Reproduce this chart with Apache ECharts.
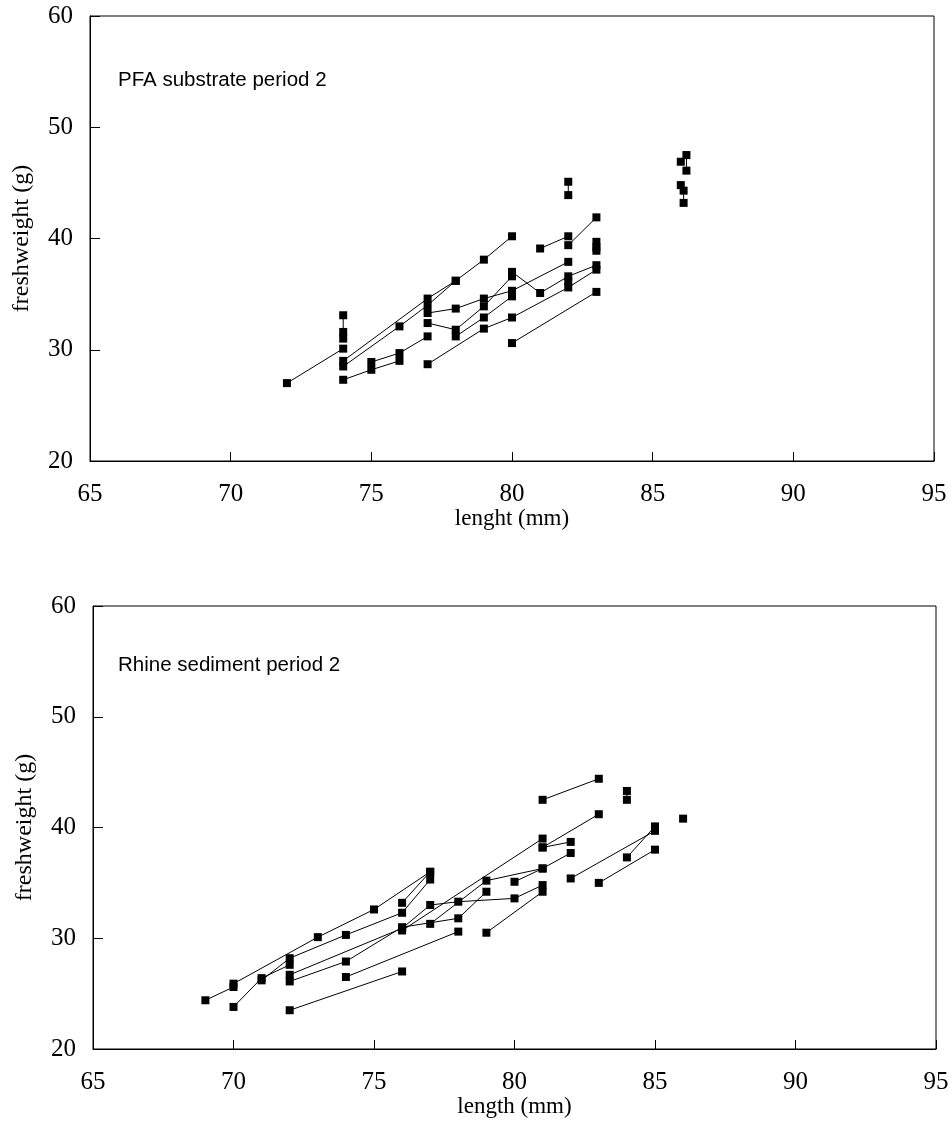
<!DOCTYPE html>
<html><head><meta charset="utf-8">
<script src="https://cdn.jsdelivr.net/npm/echarts@6/dist/echarts.min.js"></script>
<style>html,body{margin:0;padding:0;background:#fff}#c{width:952px;height:1125px}</style>
</head><body><div id="c"></div>
<script>
// x ticks (length, mm) and y ticks (freshweight, g)
const xTicks = [65, 70, 75, 80, 85, 90, 95];
const yTicks = [20, 30, 40, 50, 60];

// PFA substrate period 2 : individual fish tracks [length, freshweight]
const pfaTracks = [
  [[72,27.0],[74,30.1]],
  [[74,33.1],[74,31.6],[74,31.0]],
  [[74,29.0],[77,34.6],[78,36.2],[79,38.1],[80,40.2]],
  [[74,28.5],[76,32.1],[77,34.0],[78,36.2]],
  [[74,27.3],[75,28.2],[76,29.0]],
  [[75,28.9],[76,29.7],[77,31.2]],
  [[77,33.3],[78,33.7],[79,34.6],[80,35.3],[82,37.9]],
  [[77,32.4],[78,31.8],[79,33.9],[80,36.6]],
  [[78,31.2],[79,32.9],[80,34.8]],
  [[77,28.7],[79,31.9],[80,32.9],[82,35.6],[83,37.2]],
  [[80,37.0],[81,35.1],[82,36.6],[83,37.6]],
  [[80,30.6],[83,35.2]],
  [[81,39.1],[82,40.2]],
  [[82,39.4],[83,41.9]],
  [[82,45.1],[82,43.9]],
  [[82,36.1]],
  [[83,39.7],[83,39.2],[83,38.9]],
  [[86.0,46.9],[86.2,47.5],[86.2,46.1]],
  [[86.0,44.8],[86.1,44.3],[86.1,43.2]]
];

// Rhine sediment period 2 : individual fish tracks [length, freshweight]
const rhineTracks = [
  [[69,24.4],[70,25.6]],
  [[70,25.9],[73,30.1],[75,32.6],[77,36.0]],
  [[70,23.8],[71,26.4],[72,27.6]],
  [[71,26.2],[72,28.2],[74,30.3],[76,32.3],[77,35.3]],
  [[72,26.7],[76,30.9],[77,33.0],[78,33.3],[80,33.6],[81,34.8]],
  [[72,26.1],[74,27.9],[76,31.0],[78,31.8],[79,34.2]],
  [[72,23.5],[76,27.0]],
  [[74,26.5],[78,30.6]],
  [[76,30.7],[81,39.0]],
  [[76,33.2],[77,36.0]],
  [[77,31.3],[79,35.2],[81,36.3]],
  [[79,30.5],[81,34.2]],
  [[80,35.1],[81,36.3],[82,37.7]],
  [[81,38.2],[83,41.2]],
  [[81,38.2],[82,38.7]],
  [[81,42.5],[83,44.4]],
  [[82,35.4],[85,39.7]],
  [[83,35.0],[85,38.0]],
  [[84,37.3],[85,40.1]],
  [[84,43.3],[84,42.5]],
  [[86,40.8]]
];

const serif = '"Liberation Serif","Times New Roman",serif';
const sans = '"Liberation Sans",Arial,sans-serif';

function xAxis(gi, name, gap) {
  return {
    type: 'value', gridIndex: gi, min: xTicks[0], max: xTicks[xTicks.length-1], interval: 5,
    name: name, nameLocation: 'middle', nameGap: gap,
    nameTextStyle: { fontFamily: serif, fontSize: 23, color: '#000' },
    axisLine: { show: true, lineStyle: { color: '#000', width: 1 } },
    axisTick: { show: true, inside: true, length: 9, lineStyle: { color: '#000' } },
    axisLabel: { fontFamily: serif, fontSize: 25, color: '#000', margin: 21 },
    splitLine: { show: false }
  };
}
function yAxis(gi) {
  return {
    type: 'value', gridIndex: gi, min: yTicks[0], max: yTicks[yTicks.length-1], interval: 10,
    name: 'freshweight (g)', nameLocation: 'middle', nameGap: 56, nameRotate: 90,
    nameTextStyle: { fontFamily: serif, fontSize: 24, color: '#000' },
    axisLine: { show: true, lineStyle: { color: '#000', width: 1 } },
    axisTick: { show: true, inside: true, length: 10, lineStyle: { color: '#000' } },
    axisLabel: { fontFamily: serif, fontSize: 25, color: '#000', margin: 17 },
    splitLine: { show: false }
  };
}

const series = [];
function addTracks(tracks, gi) {
  tracks.forEach(t => {
    series.push({
      type: 'line', xAxisIndex: gi, yAxisIndex: gi, data: t,
      symbol: 'rect', symbolSize: 8, showSymbol: true,
      itemStyle: { color: '#000' },
      lineStyle: { color: '#000', width: 1 },
      animation: false, silent: true
    });
  });
}
addTracks(pfaTracks, 0);
addTracks(rhineTracks, 1);

const chart = echarts.init(document.getElementById('c'), null, { renderer: 'canvas' });
chart.setOption({
  backgroundColor: '#fff',
  animation: false,
  title: [
    { text: 'PFA substrate period 2', left: 113, top: 65, textStyle: { fontFamily: sans, fontSize: 20.5, fontWeight: 'normal', color: '#000' } },
    { text: 'Rhine sediment period 2', left: 113, top: 650, textStyle: { fontFamily: sans, fontSize: 20.5, fontWeight: 'normal', color: '#000' } }
  ],
  grid: [
    { left: 90, top: 16, width: 844, height: 445, show: true, borderColor: '#000', borderWidth: 1, backgroundColor: 'transparent' },
    { left: 93, top: 606, width: 843, height: 443, show: true, borderColor: '#000', borderWidth: 1, backgroundColor: 'transparent' }
  ],
  xAxis: [xAxis(0, 'lenght (mm)', 46), xAxis(1, 'length (mm)', 42)],
  yAxis: [yAxis(0), yAxis(1)],
  series: series
});
</script></body></html>
